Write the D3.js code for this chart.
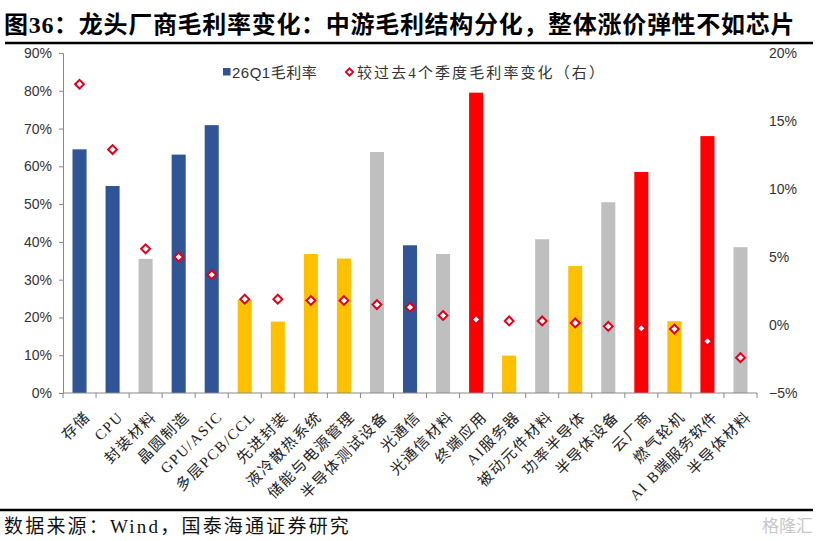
<!DOCTYPE html>
<html lang="zh">
<head>
<meta charset="UTF-8">
<title>龙头厂商毛利率变化</title>
<script src="https://d3js.org/d3.v7.min.js"></script>
<style>
  body { margin: 0; background: #fff; }
  svg { display: block; }
  .tick text { font-family: "Liberation Sans", Arial, sans-serif; font-size: 14px; fill: #333; }
  .cat { font-family: "Liberation Serif", "Noto Sans CJK SC", serif; font-size: 15px; fill: #222; letter-spacing: 1.5px; }
</style>
</head>
<body>
<svg width="823" height="541"></svg>
<script>
// categories, left to right
const categories = ["存储", "CPU", "封装材料", "晶圆制造", "GPU/ASIC", "多层PCB/CCL", "先进封装",
  "液冷散热系统", "储能与电源管理", "半导体测试设备", "光通信", "光通信材料", "终端应用", "AI服务器",
  "被动元件材料", "功率半导体", "半导体设备", "云厂商", "燃气轮机", "AI B端服务软件", "半导体材料"];
// 26Q1 gross margin (left axis)
const margin26Q1 = [0.645, 0.548, 0.355, 0.631, 0.709, 0.247, 0.189, 0.368, 0.356, 0.638, 0.391,
  0.368, 0.795, 0.099, 0.407, 0.336, 0.505, 0.585, 0.190, 0.680, 0.386];
// change vs last 4 quarters (right axis)
const marginChange = [0.177, 0.129, 0.056, 0.050, 0.037, 0.019, 0.019, 0.018, 0.018, 0.015, 0.013,
  0.007, 0.004, 0.003, 0.003, 0.0015, -0.001, -0.0025, -0.003, -0.012, -0.024];
// bar colour group
const groups = ["b", "b", "g", "b", "b", "y", "y", "y", "y", "g", "b", "g", "r", "y", "g", "y", "g", "r", "y", "r", "g"];
const leftTicks = [0, 0.1, 0.2, 0.3, 0.4, 0.5, 0.6, 0.7, 0.8, 0.9];
const rightTicks = [-0.05, 0, 0.05, 0.1, 0.15, 0.2];

const colors = { b: "#2F5597", y: "#FFC000", g: "#BFBFBF", r: "#FF0000" };
const axisColor = "#898989";

const svg = d3.select("svg");
const pLeft = 63, pRight = 757, pTop = 53, pBottom = 393;

const x = d3.scaleBand().domain(categories).range([pLeft, pRight])
  .paddingInner(0.575).paddingOuter(0.2875);
const yL = d3.scaleLinear().domain([0, 0.9]).range([pBottom, pTop]);
const yR = d3.scaleLinear().domain([-0.05, 0.2]).range([pBottom, pTop]);

// title
svg.append("text")
  .attr("x", 4).attr("y", 33)
  .style("font-family", "'Liberation Serif', 'Noto Sans CJK SC', serif")
  .style("font-size", "24px").style("font-weight", "bold")
  .style("letter-spacing", "0.7px")
  .attr("fill", "#000")
  .text("图36：龙头厂商毛利率变化：中游毛利结构分化，整体涨价弹性不如芯片");
svg.append("line").attr("x1", 5).attr("x2", 813).attr("y1", 43).attr("y2", 43)
  .attr("stroke", "#000").attr("stroke-width", 2.5);

// bars
svg.append("g").selectAll("rect")
  .data(categories)
  .join("rect")
  .attr("x", d => x(d))
  .attr("width", x.bandwidth())
  .attr("y", (d, i) => yL(margin26Q1[i]))
  .attr("height", (d, i) => yL(0) - yL(margin26Q1[i]))
  .attr("fill", (d, i) => colors[groups[i]]);

// left axis
const gL = svg.append("g").attr("transform", `translate(${pLeft},0)`)
  .call(d3.axisLeft(yL).tickValues(leftTicks).tickFormat(d3.format(".0%")).tickSizeOuter(0).tickSize(4).tickPadding(7));
gL.selectAll(".domain, line").attr("stroke", axisColor);

// right axis (labels only)
const gR = svg.append("g").attr("transform", `translate(${pRight},0)`)
  .call(d3.axisRight(yR).tickValues(rightTicks).tickFormat(d3.format(".0%")).tickSize(0).tickPadding(12));
gR.select(".domain").remove();

// x axis line with ticks at band boundaries
const gX = svg.append("g");
gX.append("line").attr("x1", pLeft).attr("x2", pRight).attr("y1", pBottom).attr("y2", pBottom)
  .attr("stroke", axisColor);
gX.selectAll("line.tk")
  .data(d3.range(categories.length + 1))
  .join("line").attr("class", "tk")
  .attr("x1", i => x.range()[0] + i * x.step()).attr("x2", i => x.range()[0] + i * x.step())
  .attr("y1", pBottom).attr("y2", pBottom + 5)
  .attr("stroke", axisColor);

gX.selectAll("text.cat")
  .data(categories)
  .join("text").attr("class", "cat")
  .attr("text-anchor", "end")
  .attr("transform", d => `translate(${x(d) + x.bandwidth() / 2 + 8},${pBottom + 21}) rotate(-45)`)
  .attr("dy", "0.35em")
  .text(d => d);

// diamonds
const diamond = d3.symbol().type(d3.symbolDiamond2).size(50);
svg.append("g").selectAll("path")
  .data(categories)
  .join("path")
  .attr("d", diamond)
  .attr("transform", (d, i) => `translate(${x(d) + x.bandwidth() / 2},${yR(marginChange[i])})`)
  .attr("fill", "#fff")
  .attr("stroke", "#E0001B")
  .attr("stroke-width", 2);

// legend
const lg = svg.append("g")
  .style("font-family", "'Liberation Sans', 'Noto Sans CJK SC', sans-serif")
  .style("font-size", "15px").attr("fill", "#333");
lg.append("rect").attr("x", 223).attr("y", 68).attr("width", 7.5).attr("height", 7.5).attr("fill", colors.b);
lg.append("text").attr("x", 232).attr("y", 77.5).style("letter-spacing", "0.5px").text("26Q1毛利率");
lg.append("path").attr("d", d3.symbol().type(d3.symbolDiamond2).size(34))
  .attr("transform", "translate(349.5,72)")
  .attr("fill", "#fff").attr("stroke", "#E0001B").attr("stroke-width", 1.8);
lg.append("text").attr("x", 357).attr("y", 77.5)
  .style("font-family", "'Liberation Serif', 'Noto Sans CJK SC', serif")
  .style("letter-spacing", "2.1px").text("较过去4个季度毛利率变化（右）");

// footer
svg.append("line").attr("x1", 0).attr("x2", 813).attr("y1", 510).attr("y2", 510)
  .attr("stroke", "#000").attr("stroke-width", 2.5);
svg.append("text").attr("x", 4).attr("y", 533)
  .style("font-family", "'Liberation Serif', 'Noto Sans CJK SC', serif")
  .style("font-size", "19px").style("letter-spacing", "2.2px")
  .attr("fill", "#111")
  .text("数据来源：Wind，国泰海通证券研究");
svg.append("text").attr("x", 813).attr("y", 532).attr("text-anchor", "end")
  .style("font-family", "'Noto Sans CJK SC', sans-serif")
  .style("font-size", "17px").attr("fill", "#c8c8c8")
  .text("格隆汇");
</script>
</body>
</html>
